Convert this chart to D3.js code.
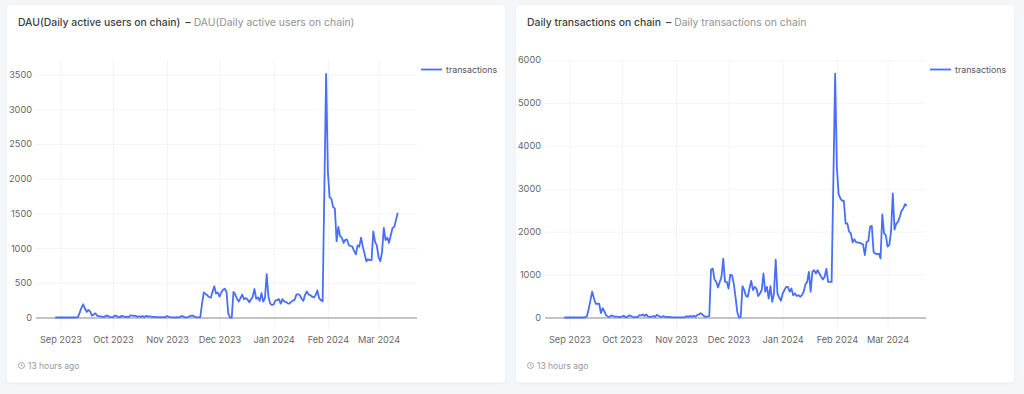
<!DOCTYPE html>
<html>
<head>
<meta charset="utf-8">
<script src="https://cdn.jsdelivr.net/npm/d3@7"></script>
<style>
  html, body { margin: 0; padding: 0; background: #f5f6f8; overflow: hidden; }
  text { font-family: Inter, "Noto Sans", sans-serif; }
</style>
</head>
<body>
<div id="chart"></div>
<script>
// one value per day, starting at firstDay
const firstDay = "2023-08-29";
const tickDates = ["2023-09-01", "2023-10-01", "2023-11-01", "2023-12-01", "2024-01-01", "2024-02-01", "2024-03-01"];
const dauTicks = [0, 500, 1000, 1500, 2000, 2500, 3000, 3500];
const txTicks = [0, 1000, 2000, 3000, 4000, 5000, 6000];

const dauValues = [
  0, 0, 0,
  0, 0, 0, 0, 0, 0, 0, 0, 0, 2, 5, 70, 140, 190, 130, 80, 110, 85, 25, 45, 60, 25, 20, 15, 10, 8, 25, 28, 8, 6,
  5, 25, 22, 6, 4, 25, 15, 8, 12, 6, 30, 28, 22, 25, 8, 18, 10, 20, 6, 22, 18, 15, 14, 10, 8, 6, 5, 3, 4, 4, 3,
  22, 10, 4, 2, 3, 2, 4, 2, 18, 18, 5, 3, 4, 20, 28, 25, 8, 4, 3, 5, 200, 360, 340, 320, 295, 285, 370, 450, 345, 360,
  300, 360, 400, 415, 370, 60, 0, 0, 370, 330, 270, 230, 280, 330, 265, 280, 260, 220, 260, 300, 410, 270, 290, 240, 350, 230, 280, 625, 300, 200, 180,
  190, 245, 250, 265, 200, 265, 230, 225, 205, 200, 225, 245, 255, 330, 335, 320, 270, 240, 330, 375, 330, 320, 300, 290, 320, 390, 280, 250, 235, 1850, 3510,
  2100, 1730, 1710, 1590, 1570, 1100, 1305, 1170, 1150, 1075, 1120, 1120, 1040, 1030, 1020, 960, 910, 1040, 1020, 1150, 1020, 920, 810, 840, 825, 825, 1240, 1090, 1040,
  870, 810, 945, 1290, 1115, 1150, 1075, 1185, 1290, 1305, 1410, 1510
];

const txValues = [
  0, 0, 0,
  0, 0, 0, 0, 0, 0, 0, 0, 0, 5, 30, 200, 400, 600, 450, 320, 320, 320, 100, 220, 140, 50, 20, 15, 50, 30, 20, 20, 15, 10,
  20, 40, 10, 8, 50, 40, 15, 10, 10, 10, 55, 45, 70, 35, 70, 20, 15, 20, 30, 15, 60, 40, 15, 20, 30, 12, 8, 15, 10, 5, 5,
  5, 5, 4, 3, 3, 4, 30, 15, 35, 15, 40, 15, 55, 70, 100, 75, 30, 15, 25, 30, 1120, 1140, 885, 830, 700, 830, 950, 1370, 830, 830,
  675, 1000, 985, 790, 480, 130, 0, 15, 730, 640, 500, 480, 675, 855, 640, 715, 675, 500, 560, 640, 1025, 600, 715, 440, 730, 365, 560, 1350, 560, 465, 390,
  560, 640, 715, 715, 600, 675, 520, 560, 500, 520, 480, 520, 600, 770, 830, 1065, 600, 1065, 1100, 1025, 1100, 1025, 950, 885, 950, 1140, 830, 830, 830, 3200, 5680,
  3500, 2875, 2775, 2720, 2720, 2190, 2190, 2000, 1960, 1750, 1825, 1750, 1750, 1740, 1725, 1700, 1455, 1765, 1780, 2115, 2135, 1530, 1490, 1475, 1490, 1375, 2400, 1960, 1920,
  1650, 1685, 2000, 2890, 2050, 2190, 2230, 2345, 2485, 2540, 2640, 2600
];

const width = 1024;
const height = 394;
const lineColor = "#4a6ef5";

const svg = d3.select("#chart").append("svg")
  .attr("width", width)
  .attr("height", height)
  .style("display", "block");

const defs = svg.append("defs");
const shadow = defs.append("filter").attr("id", "card-shadow")
  .attr("x", "-5%").attr("y", "-5%").attr("width", "110%").attr("height", "110%");
shadow.append("feDropShadow")
  .attr("dx", 0).attr("dy", 1).attr("stdDeviation", 2)
  .attr("flood-color", "#dfe3ea").attr("flood-opacity", 0.6);

function drawCard(cardX, cardWidth, title, yTicks, yTop, values) {
  const g = svg.append("g").attr("transform", `translate(${cardX},0)`);

  g.append("rect")
    .attr("y", 5)
    .attr("width", cardWidth)
    .attr("height", 377.5)
    .attr("rx", 4)
    .attr("fill", "#fff")
    .attr("filter", "url(#card-shadow)");

  const head = g.append("text").attr("x", 11).attr("y", 26).style("font-size", "10.4px");
  head.append("tspan").attr("fill", "#3c3f44").style("font-weight", 500).text(title);
  head.append("tspan").attr("fill", "#3c3f44").attr("dx", 5).style("font-weight", 600).text("–");
  head.append("tspan").attr("fill", "#8f9296").attr("dx", 3).text(title);

  const x = d3.scaleUtc()
    .domain([new Date("2023-08-18"), new Date("2024-03-23")])
    .range([29, 410]);
  const y = d3.scaleLinear()
    .domain([0, yTop])
    .range([317.5, 60]);

  const yAxis = g.append("g")
    .attr("transform", "translate(29,0)")
    .call(d3.axisLeft(y).tickValues(yTicks).tickFormat(d3.format("d")).tickSize(-381).tickPadding(4));
  yAxis.select(".domain").remove();
  yAxis.selectAll("line").attr("stroke", d => d === 0 ? "#85878a" : "#f3f4f5");
  yAxis.selectAll("text").attr("fill", "#666").style("font-size", "9.2px").style("font-family", "Inter, sans-serif");

  const xAxis = g.append("g")
    .attr("transform", "translate(0,330)")
    .call(d3.axisBottom(x)
      .tickValues(tickDates.map(d => new Date(d)))
      .tickFormat(d3.utcFormat("%b %Y"))
      .tickSize(-270)
      .tickPadding(6.5));
  xAxis.select(".domain").remove();
  xAxis.selectAll("line").attr("stroke", "#f3f4f5");
  xAxis.selectAll("text").attr("fill", "#666").style("font-size", "9.2px").style("font-family", "Inter, sans-serif");

  // baseline goes back on top of the vertical grid
  yAxis.raise();
  yAxis.selectAll(".tick").filter(d => d !== 0).lower();

  const start = new Date(firstDay);
  const line = d3.line()
    .x((d, i) => x(d3.utcDay.offset(start, i)))
    .y(d => y(d));

  g.append("path")
    .datum(values)
    .attr("d", line)
    .attr("fill", "none")
    .attr("stroke", lineColor)
    .attr("stroke-width", 1.8)
    .attr("stroke-linejoin", "round");

  // legend
  g.append("line")
    .attr("x1", 414).attr("x2", 435)
    .attr("y1", 69.5).attr("y2", 69.5)
    .attr("stroke", lineColor)
    .attr("stroke-width", 1.8);
  g.append("text")
    .attr("x", 439).attr("y", 73)
    .attr("fill", "#555")
    .style("font-size", "8.8px")
    .text("transactions");

  // footer with clock
  const clock = g.append("g")
    .attr("transform", "translate(14.5,365.5)")
    .attr("fill", "none")
    .attr("stroke", "#8f9296")
    .attr("stroke-width", 0.8);
  clock.append("circle").attr("r", 3);
  clock.append("path").attr("d", "M0,-1.6V0L1.2,0.8");
  g.append("text")
    .attr("x", 21).attr("y", 369)
    .attr("fill", "#999")
    .style("font-size", "8.5px")
    .text("13 hours ago");
}

drawCard(7, 498, "DAU(Daily active users on chain)", dauTicks, 3709, dauValues);
drawCard(516, 498, "Daily transactions on chain", txTicks, 6000, txValues);
</script>
</body>
</html>
